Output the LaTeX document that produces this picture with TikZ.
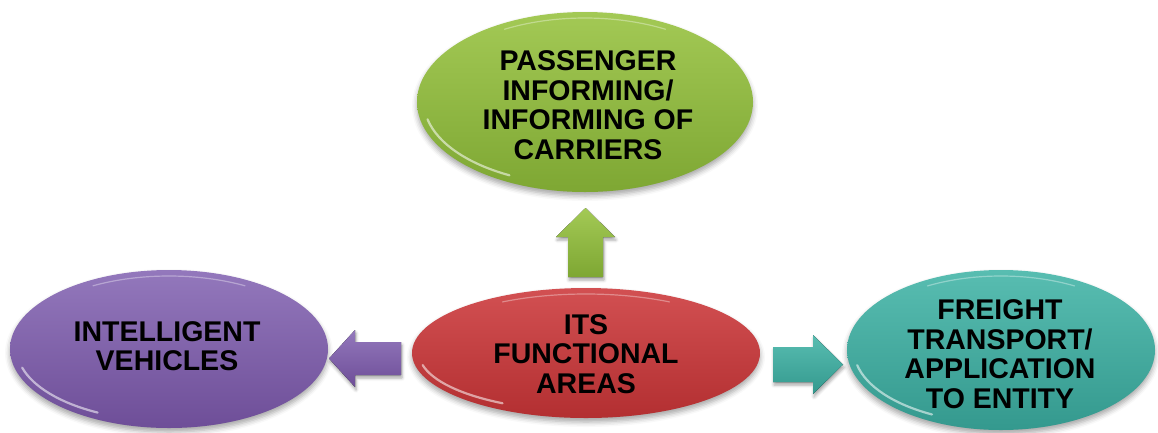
\documentclass[tikz,border=0pt]{standalone}
\usepackage{fontspec}
\setmainfont{Liberation Sans}
\usetikzlibrary{shapes.geometric,shadows.blur,calc}
\definecolor{purpT}{HTML}{9378BC}
\definecolor{purpB}{HTML}{6E4E98}
\definecolor{redT}{HTML}{D25052}
\definecolor{redB}{HTML}{B32F31}
\definecolor{grnT}{HTML}{A3C955}
\definecolor{grnB}{HTML}{7EA733}
\definecolor{tealT}{HTML}{58BDB1}
\definecolor{tealB}{HTML}{34998E}
\tikzset{
  blob/.style={ellipse, inner sep=0pt, align=center,
    font=\fontsize{28.5}{29.5}\selectfont\bfseries,
    blur shadow={shadow xshift=0pt, shadow yshift=-4pt, shadow blur radius=5pt, shadow opacity=35}},
  blockarrow/.style={blur shadow={shadow xshift=1pt, shadow yshift=-3pt, shadow blur radius=3pt, shadow opacity=35}},
  hl/.style={white, line width=2.2pt, opacity=0.55, line cap=round},
  hlsoft/.style={white, line width=1.2pt, opacity=0.35, line cap=round}
}
\begin{document}
\begin{tikzpicture}[x=1pt,y=-1pt]
\useasboundingbox (0,0) rectangle (1158,432);
% ellipses
\node[blob, minimum width=318pt, minimum height=158pt, top color=purpT, bottom color=purpB] (L) at (169,349) {};
\node[blob, minimum width=348pt, minimum height=130pt, top color=redT, bottom color=redB] (C) at (586,353) {};
\node[blob, minimum width=308pt, minimum height=160pt, top color=tealT, bottom color=tealB] (R) at (1001,350) {};
\node[blob, minimum width=336pt, minimum height=180pt, top color=grnT, bottom color=grnB] (T) at (585,102) {};
% highlights
\draw[hl] ($(L.center)+(165:152 and 72)$) arc[start angle=165, end angle=118, x radius=152, y radius=72];
\draw[hlsoft] ($(L.center)+(-120:152 and 73)$) arc[start angle=-120, end angle=-60, x radius=152, y radius=73];
\draw[hl] ($(C.center)+(168:167 and 58)$) arc[start angle=168, end angle=120, x radius=167, y radius=58];
\draw[hlsoft] ($(C.center)+(-120:167 and 59)$) arc[start angle=-120, end angle=-60, x radius=167, y radius=59];
\draw[hl] ($(R.center)+(168:147 and 73)$) arc[start angle=168, end angle=118, x radius=147, y radius=73];
\draw[hlsoft] ($(R.center)+(-120:147 and 74)$) arc[start angle=-120, end angle=-60, x radius=147, y radius=74];
\draw[hl] ($(T.center)+(168:161 and 83)$) arc[start angle=168, end angle=118, x radius=161, y radius=83];
\draw[hlsoft] ($(T.center)+(-120:161 and 84)$) arc[start angle=-120, end angle=-60, x radius=161, y radius=84];
% texts
\node[font=\fontsize{28.5}{29.5}\selectfont\bfseries, align=center] (Lt) at (167,346) {INTELLIGENT\\VEHICLES};
\node[font=\fontsize{28.5}{29.5}\selectfont\bfseries, align=center] (Ct) at (586,354) {ITS\\FUNCTIONAL\\AREAS};
\node[font=\fontsize{28.5}{29.5}\selectfont\bfseries, align=center] (Rt) at (1000,354) {FREIGHT\\TRANSPORT/\\APPLICATION\\TO ENTITY};
\node[font=\fontsize{28.5}{29.5}\selectfont\bfseries, align=center] (Tt) at (588,105) {PASSENGER\\INFORMING/\\INFORMING OF\\CARRIERS};
% block arrows
\coordinate (upB) at (585.5,277);
\coordinate (ltB) at (401,358.5);
\coordinate (rtB) at (773,364.5);
\fill[blockarrow, top color=grnT, bottom color=grnB]
  (upB) ++(-17.5,0) -- ++(0,-40) -- ++(-12,0) -- ++(29.5,-29) -- ++(29.5,29) -- ++(-12,0) -- ++(0,40) -- cycle;
\fill[blockarrow, top color=purpT, bottom color=purpB]
  (ltB) ++(0,-16.5) -- ++(-46,0) -- ++(0,-12) -- ++(-26,28.5) -- ++(26,28.5) -- ++(0,-12) -- ++(46,0) -- cycle;
\fill[blockarrow, top color=tealT, bottom color=tealB]
  (rtB) ++(0,-17.5) -- ++(40,0) -- ++(0,-12) -- ++(30,29.5) -- ++(-30,29.5) -- ++(0,-12) -- ++(-40,0) -- cycle;
\end{tikzpicture}
\end{document}
